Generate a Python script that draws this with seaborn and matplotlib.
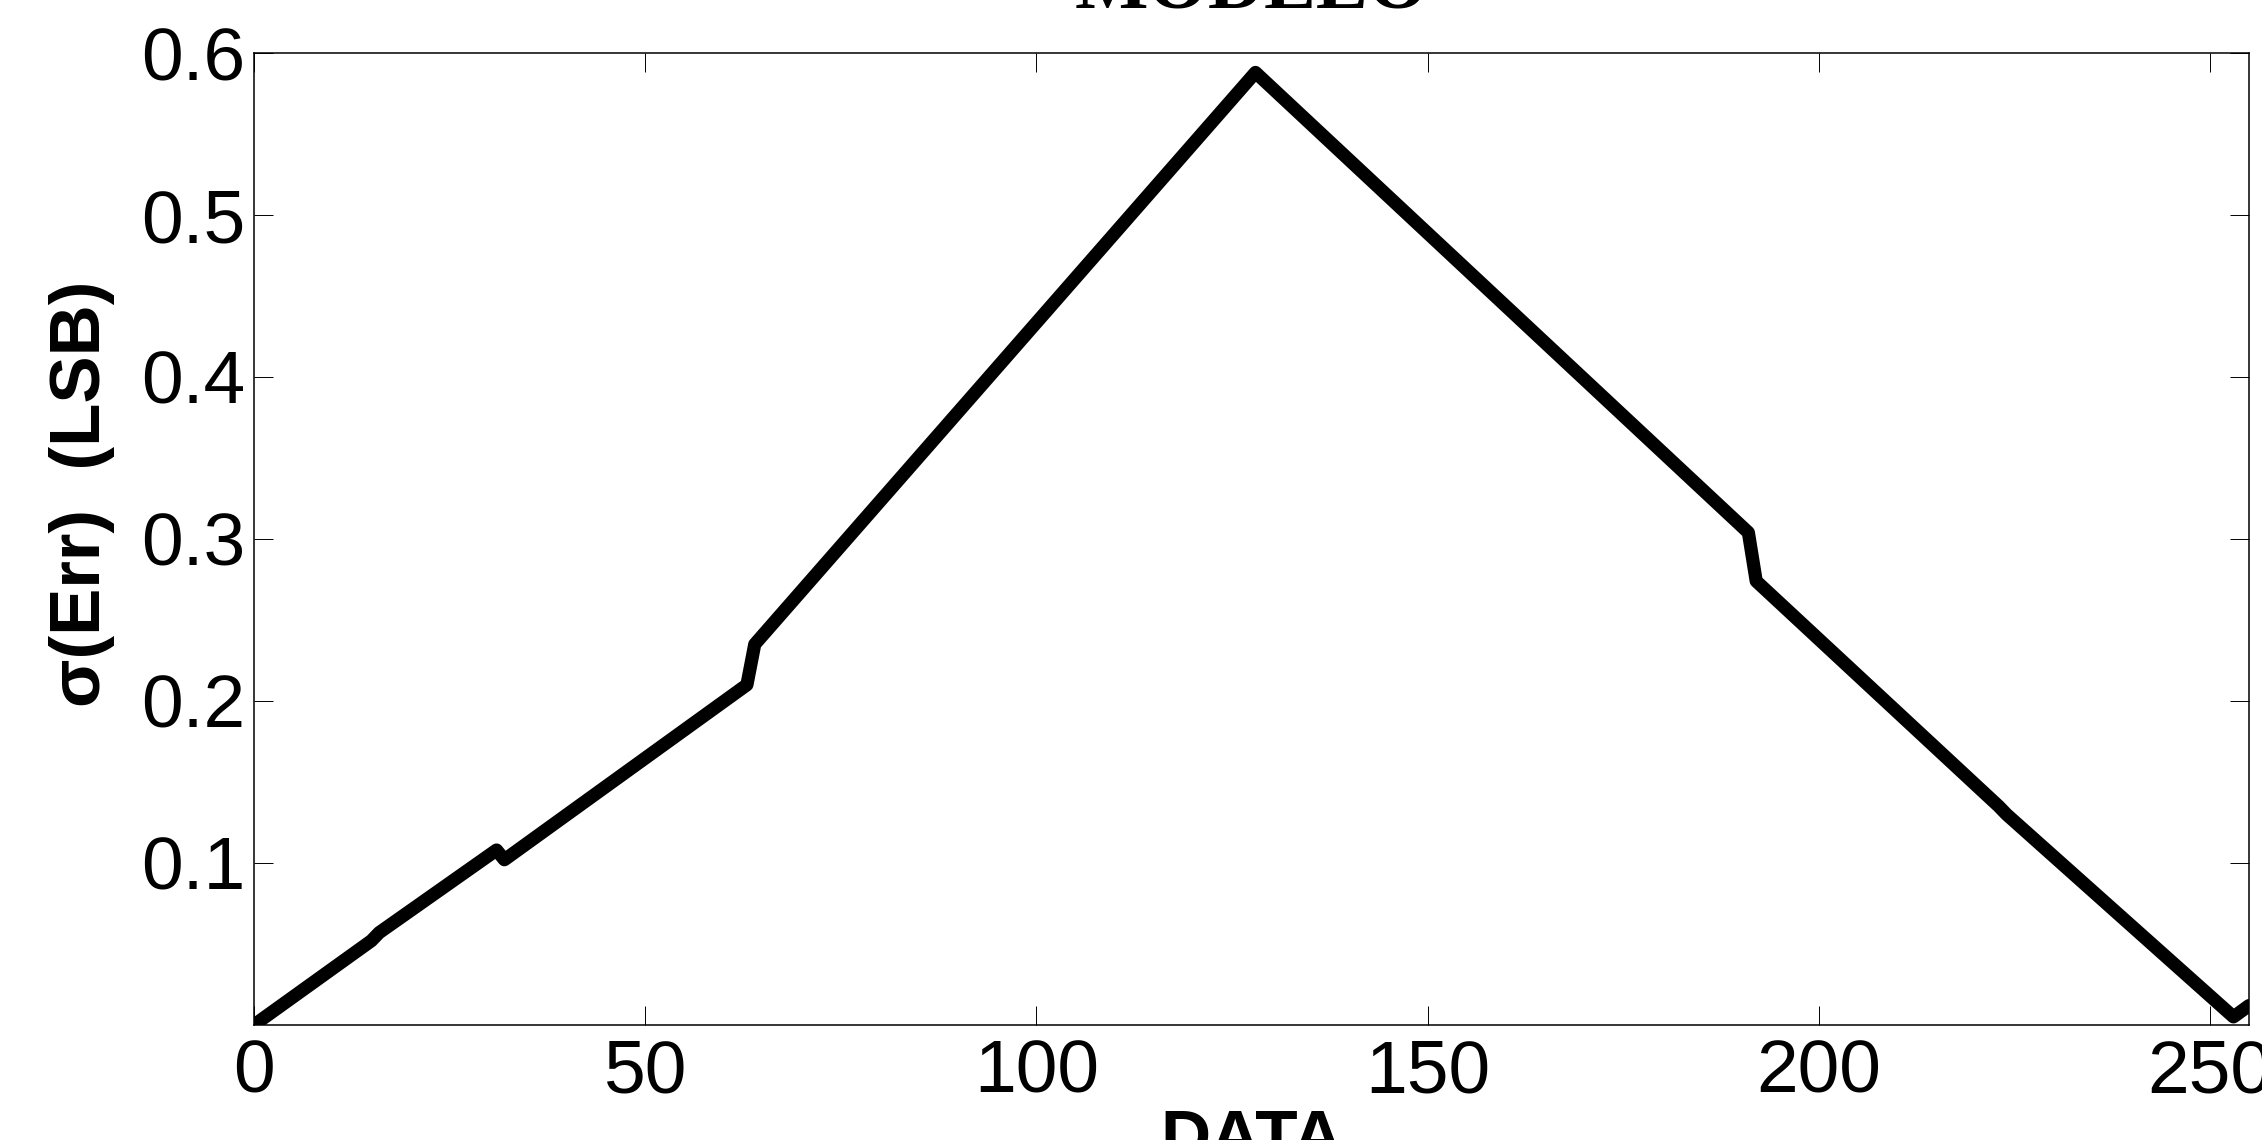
import numpy as np
import pandas as pd
import seaborn as sns
from matplotlib import pyplot as plt

# values
data_codes = [0, 15, 16, 31, 32, 63, 64, 128, 191, 192, 223, 224, 253, 255]
sigma_err = [0.0, 0.052, 0.057, 0.108, 0.102, 0.210, 0.235, 0.588,
             0.304, 0.274, 0.135, 0.130, 0.005, 0.012]
x_ticks = [0, 50, 100, 150, 200, 250]
y_ticks = [0.1, 0.2, 0.3, 0.4, 0.5, 0.6]

sns.set_style("ticks")
plt.rcParams['font.family'] = ['Liberation Sans', 'DejaVu Sans']
plt.rcParams['text.color'] = 'black'
plt.rcParams['axes.labelcolor'] = 'black'
plt.rcParams['xtick.color'] = 'black'
plt.rcParams['ytick.color'] = 'black'

df = pd.DataFrame({"DATA": data_codes, "sigma": sigma_err})

fig = plt.figure(figsize=(22.62, 11.40), dpi=100)
ax = fig.add_axes([0.1123, 0.1009, 0.8820, 0.8526])

sns.lineplot(data=df, x="DATA", y="sigma", color="black", linewidth=9.5, ax=ax)

ax.set_xlim(0, 255)
ax.set_ylim(0, 0.6)
ax.set_xticks(x_ticks)
ax.set_yticks(y_ticks)
ax.set_xticklabels([str(v) for v in x_ticks])
ax.set_yticklabels([f"{v:.1f}" for v in y_ticks])

for side in ["top", "right", "bottom", "left"]:
    ax.spines[side].set_visible(True)
    ax.spines[side].set_linewidth(1.1)
    ax.spines[side].set_color("black")

ax.tick_params(axis="both", which="major", direction="in", length=13.5, width=0.7,
               labelsize=54, top=True, right=True, color="black", labelcolor="black")
ax.tick_params(axis="x", pad=10)
ax.tick_params(axis="y", pad=6)

ax.set_xlabel("DATA", fontsize=50, fontweight="bold", labelpad=0, color="black")
ax.set_ylabel("σ(Err)  (LSB)", fontsize=51, fontweight="bold", color="black")
ax.yaxis.set_label_coords(-0.0697, 0.546)
ax.set_title("MODELO", fontsize=56, fontweight="bold", color="black",
             family=["Liberation Serif", "DejaVu Serif"], pad=32)

fig.savefig("out.png", dpi=100)
